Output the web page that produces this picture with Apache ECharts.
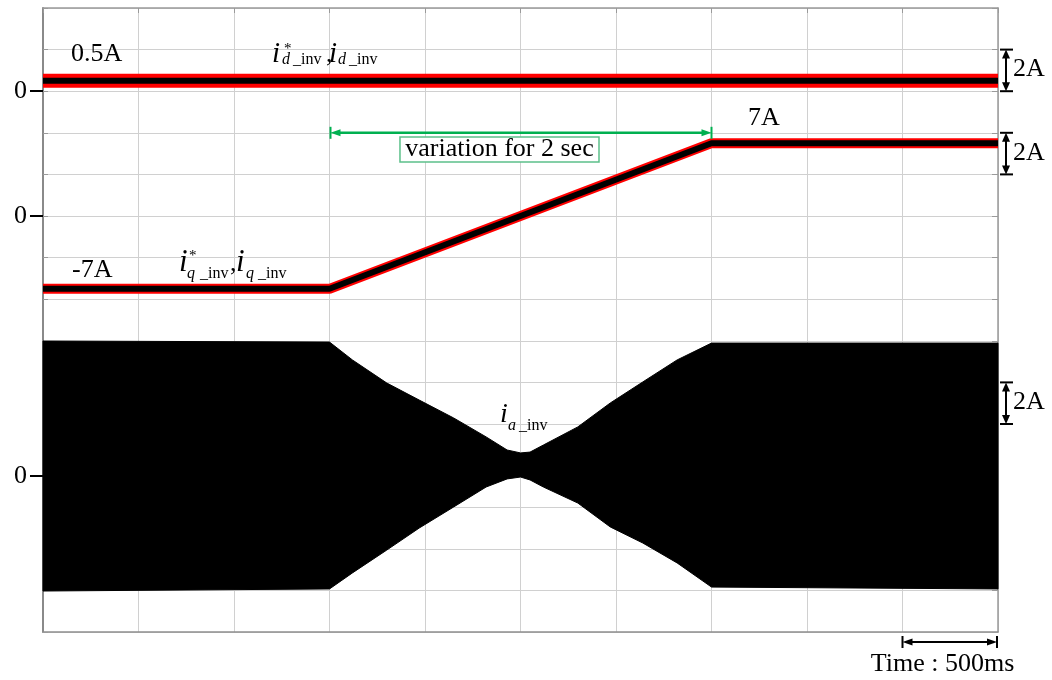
<!DOCTYPE html>
<html>
<head>
<meta charset="utf-8">
<script src="https://cdn.jsdelivr.net/npm/echarts@6/dist/echarts.min.js"></script>
<style>html,body{margin:0;padding:0;background:#fff}#c{width:1052px;height:680px}</style>
</head>
<body>
<div id="c"></div>
<script>
// ---- data (time in s, currents in A) ----
const timeKnots = [0, 1.5, 3.5, 5];
const idRef = [0.5, 0.5, 0.5, 0.5];          // i*_d_inv , i_d_inv
const iqRef = [-7, -7, 7, 7];                // i*_q_inv , i_q_inv
// envelope of the phase current i_a_inv
const envTime  = [0, 1.50, 1.62, 1.80, 1.97, 2.15, 2.32, 2.43, 2.50, 2.55, 2.62, 2.80, 2.97, 3.14, 3.32, 3.50, 5.00];
const envUpper = [6.49, 6.44, 5.58, 4.47, 3.65, 2.79, 1.88, 1.25, 1.11, 1.15, 1.49, 2.36, 3.51, 4.52, 5.58, 6.39, 6.39];
const envLower = [-5.53, -5.43, -4.66, -3.56, -2.50, -1.49, -0.53, -0.14, -0.05, -0.19, -0.53, -1.30, -2.45, -3.22, -4.18, -5.34, -5.43];
const zeroLabel = ['0'];
const scaleLabels = ['2A', '2A', '2A'];
const valueLabels = ['0.5A', '7A', '-7A'];
const timeLabel = 'Time : 500ms';
const rampLabel = 'variation for 2 sec';

const SERIF = '"Liberation Serif","Times New Roman",serif';
const chart = echarts.init(document.getElementById('c'));

function chanAxis(min, max) {
  return {
    type: 'value', min: min, max: max, position: 'left', offset: 0,
    axisLine: {show: false}, splitLine: {show: false},
    axisTick: {show: true, customValues: [0], length: 13, lineStyle: {color: '#000', width: 2}},
    axisLabel: {show: true, customValues: [0], margin: 16, fontSize: 26, fontFamily: SERIF, color: '#000',
      formatter: function () { return zeroLabel[0]; }}
  };
}

const option = {
  animation: false,
  backgroundColor: '#fff',
  grid: {left: 43, right: 54, top: 8, bottom: 48},
  xAxis: [
    {type: 'value', min: 0, max: 5, interval: 0.5, position: 'bottom',
      axisLine: {show: true, onZero: false, lineStyle: {color: '#8f8f8f', width: 1.5}},
      axisTick: {show: false}, axisLabel: {show: false},
      splitLine: {show: true, lineStyle: {color: '#d0d0d0', width: 1}}},
    {type: 'value', min: 0, max: 5, interval: 0.5, position: 'top',
      axisLine: {show: true, onZero: false, lineStyle: {color: '#9a9a9a', width: 1.5}},
      axisTick: {show: true, inside: true, length: 5, lineStyle: {color: '#9a9a9a'}},
      axisLabel: {show: false}, splitLine: {show: false}}
  ],
  yAxis: [
    {type: 'value', min: 0, max: 15, interval: 1, position: 'left',
      axisLine: {show: true, onZero: false, lineStyle: {color: '#8a8a8a', width: 2}},
      axisTick: {show: true, inside: true, length: 5, lineStyle: {color: '#9a9a9a'}},
      axisLabel: {show: false},
      splitLine: {show: true, lineStyle: {color: '#d0d0d0', width: 1}}},
    {type: 'value', min: 0, max: 15, interval: 1, position: 'right',
      axisLine: {show: true, onZero: false, lineStyle: {color: '#9a9a9a', width: 1.5}},
      axisTick: {show: true, inside: true, length: 6, lineStyle: {color: '#9a9a9a'}},
      axisLabel: {show: false}, splitLine: {show: false}},
    chanAxis(-26, 4),     // i_d channel, 2 A/div
    chanAxis(-40, 20),    // i_q channel
    chanAxis(-7.5, 22.5)  // i_a channel
  ],
  series: [
    {type: 'custom', xAxisIndex: 0, yAxisIndex: 4, z: 2, silent: true,
      data: envTime.map((t, i) => [t, envUpper[i], envLower[i]]),
      encode: {x: 0, y: [1, 2]},
      renderItem: function (params, api) {
        if (params.dataIndex !== 0) return null;
        const pts = [];
        for (let i = 0; i < envTime.length; i++) pts.push(api.coord([envTime[i], envUpper[i]]));
        for (let i = envTime.length - 1; i >= 0; i--) pts.push(api.coord([envTime[i], envLower[i]]));
        return {type: 'polygon', shape: {points: pts}, style: {fill: '#000', stroke: '#000', lineWidth: 1}};
      }},
    {type: 'line', xAxisIndex: 0, yAxisIndex: 2, z: 3, silent: true, symbol: 'none',
      data: timeKnots.map((t, i) => [t, idRef[i]]), lineStyle: {color: '#ff0000', width: 14}},
    {type: 'line', xAxisIndex: 0, yAxisIndex: 2, z: 4, silent: true, symbol: 'none',
      data: timeKnots.map((t, i) => [t, idRef[i]]), lineStyle: {color: '#000', width: 6}},
    {type: 'line', xAxisIndex: 0, yAxisIndex: 3, z: 3, silent: true, symbol: 'none',
      data: timeKnots.map((t, i) => [t, iqRef[i]]), lineStyle: {color: '#ff0000', width: 10}},
    {type: 'line', xAxisIndex: 0, yAxisIndex: 3, z: 4, silent: true, symbol: 'none',
      data: timeKnots.map((t, i) => [t, iqRef[i]]), lineStyle: {color: '#000', width: 6}}
  ]
};
chart.setOption(option);

// ---- annotations, placed in grid units (t in s, k = divisions from top) ----
function P(t, k) { return chart.convertToPixel({xAxisIndex: 0, yAxisIndex: 0}, [t, 15 - k]); }
const G = [];
function txt(x, base, text, size, italic, align) {
  G.push({type: 'text', z: 100, silent: true, x: x, y: base - 0.34 * size,
    style: {text: text, font: (italic ? 'italic ' : '') + size + 'px ' + SERIF, fill: '#000',
      align: align || 'left', verticalAlign: 'middle'}});
}
function line(x1, y1, x2, y2, color, w) {
  G.push({type: 'line', z: 100, silent: true, shape: {x1, y1, x2, y2}, style: {stroke: color, lineWidth: w}});
}
function tri(pts, color) {
  G.push({type: 'polygon', z: 100, silent: true, shape: {points: pts}, style: {fill: color}});
}
function hArrow(xa, xb, y, color, w, hl, hw) {
  line(xa + hl - 1, y, xb - hl + 1, y, color, w);
  tri([[xa, y], [xa + hl, y - hw], [xa + hl, y + hw]], color);
  tri([[xb, y], [xb - hl, y - hw], [xb - hl, y + hw]], color);
  line(xa, y - 6, xa, y + 6, color, 2);
  line(xb, y - 6, xb, y + 6, color, 2);
}
function vBracket(x, ya, yb) {
  line(x, ya + 7, x, yb - 7, '#000', 2);
  tri([[x, ya], [x - 4, ya + 9], [x + 4, ya + 9]], '#000');
  tri([[x, yb], [x - 4, yb - 9], [x + 4, yb - 9]], '#000');
  line(x - 6, ya, x + 7, ya, '#000', 2);
  line(x - 6, yb, x + 7, yb, '#000', 2);
}
function mathLabel(x0, b, pieces) {
  pieces.forEach(p => txt(x0 + p[1], b + p[2], p[0], p[3], p[4]));
}

// value labels
let p;
p = P(0.147, 1.322); txt(p[0], p[1], valueLabels[0], 26, false);
p = P(3.691, 2.861); txt(p[0], p[1], valueLabels[1], 26, false);
p = P(0.152, 6.514); txt(p[0], p[1], valueLabels[2], 26, false);

// math labels
p = P(1.204, 1.346);
mathLabel(p[0], p[1], [['i', -1, 0, 29, true], ['*', 11, -10, 15, false], ['d', 9, 1, 16, true], ['_inv', 20, 1, 16, false],
  [',', 53, 0, 26, false], ['i', 56, 0, 29, true], ['d', 65, 1, 16, true], ['_inv', 76, 1, 16, false]]);
p = P(0.717, 6.37);
mathLabel(p[0], p[1], [['i', -1, 0, 31, true], ['*', 9, -12, 15, false], ['q', 7, 6, 16, true], ['_inv', 20, 6, 16, false],
  [',', 50, 0, 26, false], ['i', 56, 0, 31, true], ['q', 66, 6, 16, true], ['_inv', 78, 6, 16, false]]);
p = P(2.398, 10.0);
mathLabel(p[0], p[1], [['i', -1, 0, 28, true], ['a', 7, 7, 16, true], ['_inv', 18, 7, 16, false]]);

// 2 A scale brackets (one division each)
const brackets = [[1, 2], [3, 4], [9, 10]];
brackets.forEach((bk, i) => {
  const a = P(5.042, bk[0]), b = P(5.042, bk[1]);
  vBracket(a[0], a[1], b[1]);
  txt(a[0] + 7, (a[1] + b[1]) / 2 + 8, scaleLabels[i], 26, false);
});

// green ramp-duration arrow and box
const ga = P(1.5, 3), gb = P(3.5, 3);
hArrow(ga[0] + 1, gb[0], ga[1], '#00b050', 2.5, 10, 3.5);
const b1 = P(1.869, 3.10), b2 = P(2.911, 3.70);
G.push({type: 'rect', z: 99, silent: true, shape: {x: b1[0], y: b1[1], width: b2[0] - b1[0], height: b2[1] - b1[1]},
  style: {fill: '#fff', stroke: '#5cc08a', lineWidth: 1.5}});
txt((b1[0] + b2[0]) / 2, b2[1] - 4, rampLabel, 26, false, 'center');

// time scale bracket
const ta = P(4.5, 15.24), tb = P(5, 15.24);
hArrow(ta[0], tb[0] - 1, ta[1], '#000', 2, 10, 3.5);
const tl = P(4.71, 15.99);
txt(tl[0], tl[1], timeLabel, 26, false, 'center');

chart.setOption({graphic: G});
</script>
</body>
</html>
